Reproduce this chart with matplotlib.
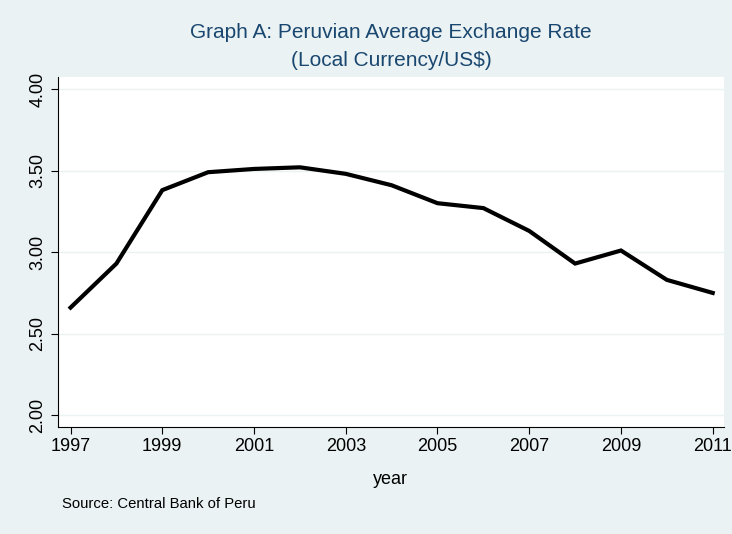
import matplotlib.pyplot as plt

plt.rcParams['font.family'] = ['Liberation Sans', 'DejaVu Sans']

# Peruvian average exchange rate (local currency per US$)
years = [1997, 1998, 1999, 2000, 2001, 2002, 2003, 2004, 2005, 2006, 2007, 2008, 2009, 2010, 2011]
rate = [2.66, 2.93, 3.38, 3.49, 3.51, 3.52, 3.48, 3.41, 3.30, 3.27, 3.13, 2.93, 3.01, 2.83, 2.75]

xticks = list(range(1997, 2012, 2))
yticks = [2.0, 2.5, 3.0, 3.5, 4.0]

bg = '#eaf2f3'
navy = '#1a476f'

fig = plt.figure(figsize=(7.32, 5.34), dpi=100, facecolor=bg)
ax = fig.add_axes([57.7 / 732, 1 - 426.7 / 534, 666.3 / 732, 349.7 / 534])
ax.set_facecolor('white')

ax.plot(years, rate, color='black', linewidth=3, solid_joinstyle='miter')

ax.set_xlim(1996.72, 2011.246)
ax.set_ylim(1.930, 4.0736)
ax.set_xticks(xticks)
ax.set_yticks(yticks)
ax.set_yticklabels([f'{v:.2f}' for v in yticks], rotation=90, va='center')
ax.tick_params(labelsize=13, length=5, width=0.8, color='black', pad=3)
ax.grid(axis='y', color=bg, linewidth=1)
ax.set_axisbelow(True)

for s in ['top', 'right']:
    ax.spines[s].set_visible(False)
for s in ['left', 'bottom']:
    ax.spines[s].set_linewidth(0.8)

ax.set_xlabel('year', fontsize=13, labelpad=12)

fig.text(391 / 732, 1 - 32 / 534, 'Graph A: Peruvian Average Exchange Rate',
         ha='center', va='center', color=navy, fontsize=15)
fig.text(391 / 732, 1 - 60 / 534, '(Local Currency/US$)',
         ha='center', va='center', color=navy, fontsize=15)
fig.text(62 / 732, 1 - 504 / 534, 'Source: Central Bank of Peru',
         ha='left', va='center', fontsize=10.7)

fig.savefig('out.png', dpi=100, facecolor=bg)
